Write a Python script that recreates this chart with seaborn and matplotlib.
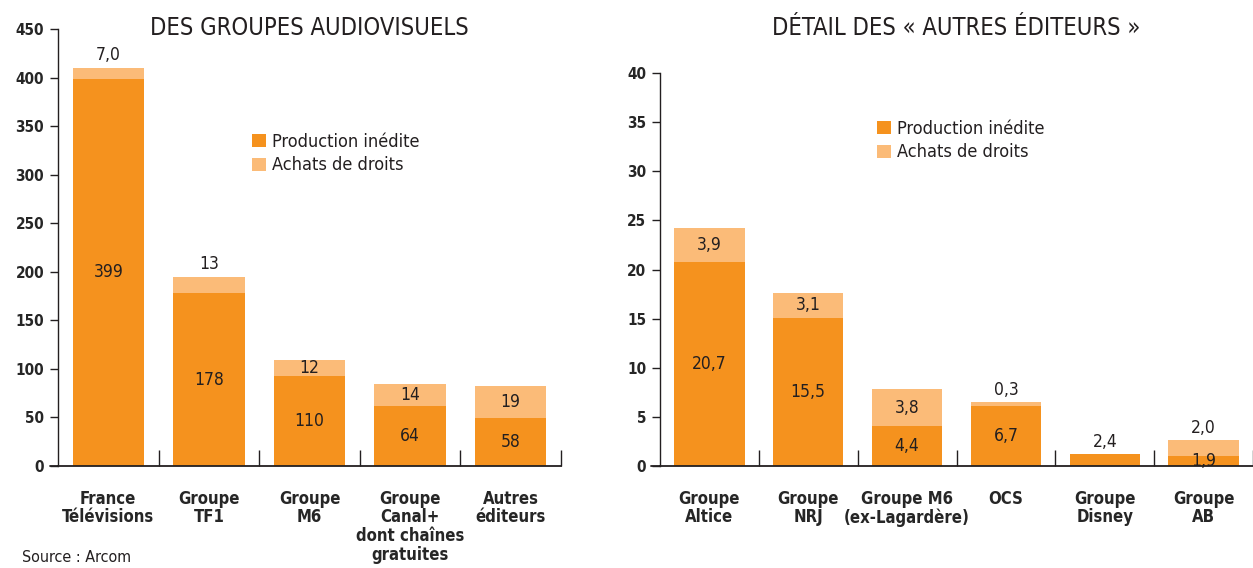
import matplotlib
matplotlib.use("Agg")
import matplotlib.pyplot as plt
import seaborn as sns
import pandas as pd

# Volume des investissements (M€) : production inédite + achats de droits
groupes = ["France\nTélévisions", "Groupe\nTF1", "Groupe\nM6",
           "Groupe\nCanal+\ndont chaînes\ngratuites", "Autres\néditeurs"]
groupes_inedite = [399, 178, 93, 62, 49]
groupes_total = [410, 195, 109, 84, 82]
groupes_lbl_inedite = ["399", "178", "110", "64", "58"]
groupes_lbl_achats = ["7,0", "13", "12", "14", "19"]

autres = ["Groupe\nAltice", "Groupe\nNRJ", "Groupe M6\n(ex-Lagardère)", "OCS",
          "Groupe\nDisney", "Groupe\nAB"]
autres_inedite = [20.8, 15.1, 4.1, 6.1, 1.2, 1.0]
autres_total = [24.2, 17.6, 7.8, 6.5, 1.2, 2.6]
autres_lbl_inedite = ["20,7", "15,5", "4,4", "6,7", "", "1,9"]
autres_lbl_achats = ["3,9", "3,1", "3,8", "0,3", "2,4", "2,0"]

ORANGE = "#F5921E"
LIGHT = "#FBBB78"
INK = "#231F20"

sns.set_theme(style="white")
plt.rcParams["font.family"] = ["DejaVu Sans"]
plt.rcParams["font.stretch"] = "condensed"
plt.rcParams["text.color"] = INK
plt.rcParams["axes.edgecolor"] = INK

W, H = 1253, 568
fig = plt.figure(figsize=(W / 100, H / 100), dpi=100)


def px_box(x0, x1, ytop, ybot):
    return [x0 / W, 1 - ybot / H, (x1 - x0) / W, (ybot - ytop) / H]


def draw_panel(ax, cats, inedite, total, lbl_in, lbl_ach, achats_dedans,
               ymax, step, xmax, title, leg_px):
    df = pd.DataFrame({"cat": cats, "inedite": inedite, "total": total})
    sns.barplot(data=df, x="cat", y="total", color=LIGHT, width=0.71,
                saturation=1, linewidth=0, label="Achats de droits", ax=ax)
    sns.barplot(data=df, x="cat", y="inedite", color=ORANGE, width=0.71,
                saturation=1, linewidth=0, label="Production inédite", ax=ax)

    ax.set_xlim(-0.5, xmax)
    ax.set_ylim(0, ymax)
    ax.set_yticks(range(0, ymax + 1, step))
    ax.set_xlabel("")
    ax.set_ylabel("")

    for s in ["top", "right"]:
        ax.spines[s].set_visible(False)
    ax.spines["left"].set_linewidth(1.0)
    ax.spines["bottom"].set_linewidth(1.3)
    ax.plot([-0.015, 0], [0, 0], transform=ax.transAxes, color=INK,
            lw=1.3, clip_on=False)

    ax.tick_params(axis="y", direction="out", length=6, width=1,
                   color=INK, left=True, pad=4, labelsize=11)
    for t in ax.get_yticklabels():
        t.set_fontweight("bold")
    ax.set_xticks(range(len(cats)))
    ax.set_xticklabels(cats, fontsize=12, fontweight="bold",
                       linespacing=1.05)
    ax.tick_params(axis="x", length=0, pad=17, bottom=True)
    ax.set_xticks([i + 0.5 for i in range(len(cats))], minor=True)
    ax.tick_params(axis="x", which="minor", direction="in", length=11.5,
                   width=1, color=INK, bottom=True)

    for i in range(len(cats)):
        if lbl_in[i]:
            ax.text(i, inedite[i] / 2, lbl_in[i], ha="center", va="center",
                    fontsize=12.5)
        if achats_dedans[i]:
            ax.text(i, (inedite[i] + total[i]) / 2, lbl_ach[i], ha="center",
                    va="center", fontsize=12.5)
        else:
            ax.annotate(lbl_ach[i], (i, total[i]), xytext=(0, 9),
                        textcoords="offset points", ha="center",
                        va="center", fontsize=12.5)

    h, l = ax.get_legend_handles_labels()
    ax.legend(h[::-1], l[::-1], loc="upper left", frameon=False,
              bbox_to_anchor=(leg_px[0] / W, 1 - leg_px[1] / H),
              bbox_transform=fig.transFigure, fontsize=13,
              handlelength=0.75, handleheight=0.75, handletextpad=0.35,
              labelspacing=0.3, borderpad=0, borderaxespad=0)

    # titre centré au-dessus du panneau
    fig.text(ax.get_position().x0 + ax.get_position().width / 2,
             1 - 28 / H, title, ha="center", va="center", fontsize=17)


ax1 = fig.add_axes(px_box(58, 561, 29, 466))
draw_panel(ax1, groupes, groupes_inedite, groupes_total, groupes_lbl_inedite,
           groupes_lbl_achats, [False, False, True, True, True],
           450, 50, 4.5, "DES GROUPES AUDIOVISUELS", (252, 133))

ax2 = fig.add_axes(px_box(660, 1253, 73, 466))
draw_panel(ax2, autres, autres_inedite, autres_total, autres_lbl_inedite,
           autres_lbl_achats, [True, True, True, False, False, False],
           40, 5, 5.43, "DÉTAIL DES « AUTRES ÉDITEURS »", (877, 120))

fig.text(22 / W, 1 - 557 / H, "Source : Arcom", ha="left", va="center",
         fontsize=11.5)

fig.savefig("out.png", dpi=100)
